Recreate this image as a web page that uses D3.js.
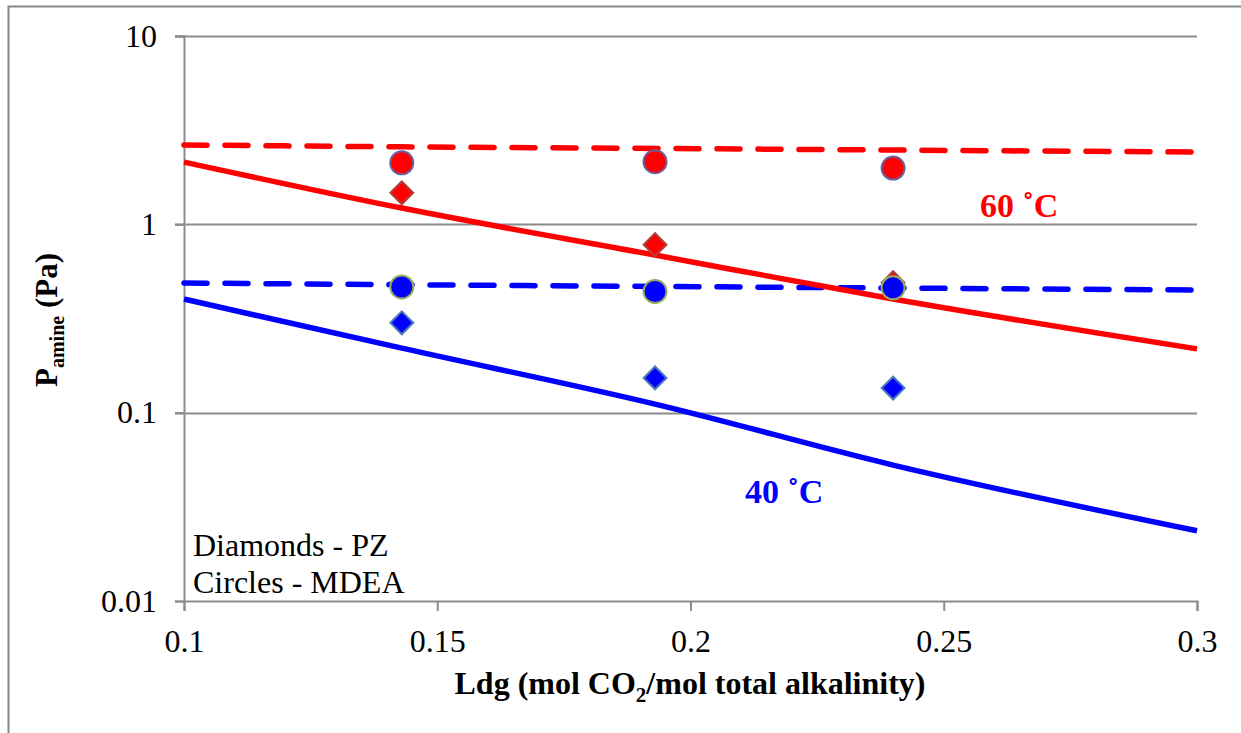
<!DOCTYPE html>
<html>
<head>
<meta charset="utf-8">
<script src="https://cdn.jsdelivr.net/npm/d3@7"></script>
<style>
  html, body { margin: 0; padding: 0; background: #fff; }
  svg { display: block; }
  svg text { font-family: "Liberation Serif", "Times New Roman", Tinos, "DejaVu Serif", serif !important; }
</style>
</head>
<body>
<svg id="chart" width="1241" height="733"></svg>
<script>
// Loading (mol CO2 / mol total alkalinity) of the measured points
const ldgPoints = [0.143, 0.193, 0.24];
// Measured amine partial pressures, Pa
const pz60 = [1.47, 0.78, 0.49];
const mdea60 = [2.12, 2.15, 1.99];
const pz40 = [0.30, 0.153, 0.135];
const mdea40 = [0.465, 0.44, 0.46];

// Model curves
const ldgModel = [0.1, 0.143, 0.193, 0.24, 0.3];
const pzModel60 = [2.14, 1.22, 0.687, 0.401, 0.218];
const mdeaModel60 = [2.64, 2.58, 2.53, 2.48, 2.42];
const pzModel40 = [0.401, 0.220, 0.111, 0.0527, 0.0236];
const mdeaModel40 = [0.488, 0.478, 0.468, 0.459, 0.448];

const xTicks = [0.1, 0.15, 0.2, 0.25, 0.3];
const yTicks = [0.01, 0.1, 1, 10];

const serif = '"Liberation Serif", "Times New Roman", Tinos, "DejaVu Serif", serif';
const svg = d3.select("#chart").attr("font-family", serif);
const plotLeft = 184, plotRight = 1197, plotTop = 36, plotBottom = 601;

const x = d3.scaleLinear().domain([0.1, 0.3]).range([plotLeft, plotRight]);
const y = d3.scaleLog().domain([0.01, 10]).range([plotBottom, plotTop]);

// outer frame (top and left edges)
svg.append("path")
  .attr("d", "M8.5,733 L8.5,6.5 L1241,6.5")
  .attr("fill", "none").attr("stroke", "#868686").attr("stroke-width", 2);

// horizontal gridlines
svg.append("g").selectAll("line").data(yTicks.slice(1)).join("line")
  .attr("x1", plotLeft - 9).attr("x2", plotRight)
  .attr("y1", d => Math.round(y(d)) + 0.5).attr("y2", d => Math.round(y(d)) + 0.5)
  .attr("stroke", "#8c8c8c").attr("stroke-width", 2);

// y axis
const yAxis = svg.append("g").attr("transform", `translate(${plotLeft},0)`)
  .call(d3.axisLeft(y).tickValues(yTicks).tickFormat(d => String(d)).tickSize(9).tickPadding(18));
// x axis
const xAxis = svg.append("g").attr("transform", `translate(0,${plotBottom})`)
  .call(d3.axisBottom(x).tickValues(xTicks).tickFormat(d => String(d)).tickSize(10).tickPadding(18));

[yAxis, xAxis].forEach(g => {
  g.attr("font-family", serif).attr("font-size", 32);
  g.select(".domain").attr("stroke", "#8c8c8c").attr("stroke-width", 2);
  g.selectAll(".tick line").attr("stroke", "#8c8c8c").attr("stroke-width", 2);
  g.selectAll(".tick text").attr("fill", "#000");
});

// model curves
const line = d3.line().x(d => x(d[0])).y(d => y(d[1])).curve(d3.curveMonotoneX);
const curves = [
  { v: mdeaModel60, color: "#ff0000", dash: "23 18" },
  { v: mdeaModel40, color: "#0000ff", dash: "23 18" },
  { v: pzModel60, color: "#ff0000", dash: null },
  { v: pzModel40, color: "#0000ff", dash: null }
];
curves.forEach(c => {
  svg.append("path")
    .datum(ldgModel.map((l, i) => [l, c.v[i]]))
    .attr("d", line)
    .attr("fill", "none")
    .attr("stroke", c.color)
    .attr("stroke-width", 5.5)
    .attr("stroke-linecap", c.dash ? "round" : "butt")
    .attr("stroke-dasharray", c.dash);
});

// measured points
const diamond = d3.symbol().type(d3.symbolSquare).size(260);
function diamonds(vals, fill, stroke) {
  svg.append("g").selectAll("path").data(vals).join("path")
    .attr("d", diamond)
    .attr("transform", (d, i) => `translate(${x(ldgPoints[i])},${y(d)}) rotate(45)`)
    .attr("fill", fill).attr("stroke", stroke).attr("stroke-width", 2);
}
function circles(vals, fill, stroke) {
  svg.append("g").selectAll("circle").data(vals).join("circle")
    .attr("cx", (d, i) => x(ldgPoints[i])).attr("cy", d => y(d))
    .attr("r", 11.5)
    .attr("fill", fill).attr("stroke", stroke).attr("stroke-width", 2);
}
diamonds(pz60, "#ff0000", "#b0403a");
circles(mdea60, "#ff0000", "#6a5f9e");
diamonds(pz40, "#0000ff", "#4a7ab8");
circles(mdea40, "#0000ff", "#96ad5a");

// temperature labels
svg.append("text").attr("x", 980).attr("y", 217)
  .attr("font-size", 34).attr("font-weight", "bold").attr("fill", "#ff0000")
  .text("60 ˚C");
svg.append("text").attr("x", 745).attr("y", 503)
  .attr("font-size", 34).attr("font-weight", "bold").attr("fill", "#0000ff")
  .text("40 ˚C");

// marker key
svg.append("text").attr("x", 193).attr("y", 556).attr("font-size", 32).text("Diamonds - PZ");
svg.append("text").attr("x", 193).attr("y", 593).attr("font-size", 32).text("Circles - MDEA");

// axis titles
const xt = svg.append("text").attr("x", 690).attr("y", 694)
  .attr("text-anchor", "middle").attr("font-size", 32).attr("font-weight", "bold");
xt.append("tspan").text("Ldg (mol CO");
xt.append("tspan").attr("font-size", 21).attr("dy", 8).text("2");
xt.append("tspan").attr("dy", -8).text("/mol total alkalinity)");

const yt = svg.append("text")
  .attr("transform", "translate(57,320) rotate(-90)")
  .attr("text-anchor", "middle").attr("font-size", 31).attr("font-weight", "bold");
yt.append("tspan").text("P");
yt.append("tspan").attr("font-size", 20).attr("dy", 7).text("amine");
yt.append("tspan").attr("dy", -7).text(" (Pa)");
</script>
</body>
</html>
